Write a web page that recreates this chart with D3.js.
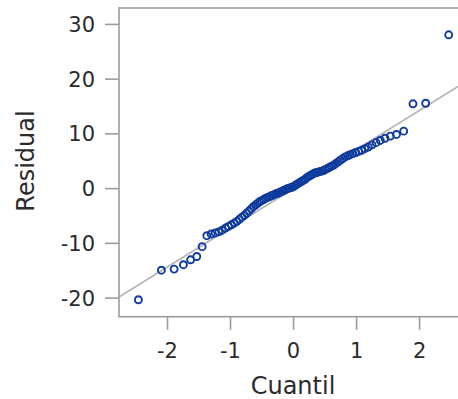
<!DOCTYPE html>
<html>
<head>
<meta charset="utf-8">
<script src="https://cdn.jsdelivr.net/npm/d3@7"></script>
<style>
  body { margin: 0; background: #fff; }
  text { font-family: "DejaVu Sans", sans-serif; fill: #2b2b2b; }
</style>
</head>
<body>
<div id="chart"></div>
<script>
// normal quantiles (x) and sorted residuals (y)
const quantiles = [
  -2.462, -2.097, -1.895, -1.748, -1.633, -1.536, -1.451, -1.376, -1.308, -1.244,
  -1.186, -1.132, -1.080, -1.032, -0.986, -0.942, -0.900, -0.859, -0.819, -0.781,
  -0.744, -0.708, -0.672, -0.638, -0.604, -0.571, -0.539, -0.507, -0.476, -0.445,
  -0.415, -0.385, -0.355, -0.325, -0.296, -0.267, -0.239, -0.210, -0.182, -0.154,
  -0.125, -0.097, -0.070, -0.042, -0.014, 0.014, 0.042, 0.070, 0.097, 0.125,
  0.154, 0.182, 0.210, 0.239, 0.267, 0.296, 0.325, 0.355, 0.385, 0.415,
  0.445, 0.476, 0.507, 0.539, 0.571, 0.604, 0.638, 0.672, 0.708, 0.744,
  0.781, 0.819, 0.859, 0.900, 0.942, 0.986, 1.032, 1.080, 1.132, 1.186,
  1.244, 1.308, 1.376, 1.451, 1.536, 1.633, 1.748, 1.895, 2.097, 2.462
];
const residuals = [
  -20.3, -14.9, -14.7, -13.9, -13.0, -12.4, -10.6, -8.6, -8.3, -8.1,
  -7.9, -7.6, -7.2, -6.9, -6.6, -6.3, -6.0, -5.6, -5.2, -4.9,
  -4.5, -4.1, -3.7, -3.3, -3.0, -2.7, -2.4, -2.2, -2.0, -1.8,
  -1.6, -1.5, -1.3, -1.2, -1.0, -0.9, -0.8, -0.6, -0.5, -0.3,
  -0.2, 0.0, 0.1, 0.2, 0.3, 0.5, 0.7, 0.9, 1.1, 1.3,
  1.5, 1.7, 2.0, 2.2, 2.4, 2.6, 2.8, 2.9, 3.0, 3.1,
  3.2, 3.3, 3.5, 3.7, 3.9, 4.1, 4.3, 4.6, 4.9, 5.2,
  5.5, 5.8, 6.0, 6.2, 6.4, 6.6, 6.8, 7.0, 7.3, 7.6,
  8.0, 8.4, 8.8, 9.2, 9.6, 9.9, 10.5, 15.5, 15.6, 28.1
];
const xTicks = [-2, -1, 0, 1, 2];
const yTicks = [-20, -10, 0, 10, 20, 30];
// reference line: residual = intercept + slope * quantile
const refIntercept = 0;
const refSlope = 7.15;

const width = 458, height = 399;
const plotLeft = 119, plotTop = 8, plotRight = 470, plotBottom = 316.7;
const axisColor = "#9c9c9c";

const svg = d3.select("#chart").append("svg")
    .attr("width", width)
    .attr("height", height);

let x = d3.scaleLinear().domain([-2.77, 2.8]).range([plotLeft, plotRight]);
let y = d3.scaleLinear().domain([-23.4, 33]).range([plotBottom, plotTop]);

svg.append("clipPath")
    .attr("id", "plotclip")
  .append("rect")
    .attr("x", plotLeft)
    .attr("y", plotTop)
    .attr("width", plotRight - plotLeft)
    .attr("height", plotBottom - plotTop);

const plot = svg.append("g").attr("clip-path", "url(#plotclip)");

// reference line
let xd = x.domain();
plot.append("line")
    .attr("x1", x(xd[0]))
    .attr("y1", y(refIntercept + refSlope * xd[0]))
    .attr("x2", x(xd[1]))
    .attr("y2", y(refIntercept + refSlope * xd[1]))
    .attr("stroke", "#b4b4b4")
    .attr("stroke-width", 1.6);

// points
plot.selectAll("circle")
    .data(quantiles.map((q, i) => ({q: q, r: residuals[i]})))
    .join(
        enter => enter.append("circle")
            .attr("cx", d => x(d.q))
            .attr("cy", d => y(d.r))
            .attr("r", 3.5)
            .attr("fill", "none")
            .attr("stroke", "#0d3b9e")
            .attr("stroke-width", 1.9)
    );

// frame
svg.append("rect")
    .attr("x", plotLeft)
    .attr("y", plotTop)
    .attr("width", plotRight - plotLeft)
    .attr("height", plotBottom - plotTop)
    .attr("fill", "none")
    .attr("stroke", axisColor)
    .attr("stroke-width", 1.6);

// y ticks
svg.selectAll(".ytick")
    .data(yTicks)
    .join(
        enter => enter.append("line")
            .attr("class", "ytick")
            .attr("x1", plotLeft - 14)
            .attr("x2", plotLeft)
            .attr("y1", d => y(d))
            .attr("y2", d => y(d))
            .attr("stroke", axisColor)
            .attr("stroke-width", 1.6)
    );

svg.selectAll(".ylabel")
    .data(yTicks)
    .join(
        enter => enter.append("text")
            .attr("class", "ylabel")
            .attr("x", 95)
            .attr("y", d => y(d))
            .attr("dy", "0.36em")
            .attr("text-anchor", "end")
            .attr("font-size", 21)
            .text(d => d.toString())
    );

// x ticks
svg.selectAll(".xtick")
    .data(xTicks)
    .join(
        enter => enter.append("line")
            .attr("class", "xtick")
            .attr("x1", d => x(d))
            .attr("x2", d => x(d))
            .attr("y1", plotBottom)
            .attr("y2", plotBottom + 13)
            .attr("stroke", axisColor)
            .attr("stroke-width", 1.6)
    );

svg.selectAll(".xlabel")
    .data(xTicks)
    .join(
        enter => enter.append("text")
            .attr("class", "xlabel")
            .attr("x", d => x(d))
            .attr("y", 358)
            .attr("text-anchor", "middle")
            .attr("font-size", 21)
            .text(d => d.toString())
    );

// axis titles
svg.append("text")
    .attr("x", 293)
    .attr("y", 394)
    .attr("text-anchor", "middle")
    .attr("font-size", 24)
    .text("Cuantil");

svg.append("text")
    .attr("transform", "translate(34,161) rotate(-90)")
    .attr("text-anchor", "middle")
    .attr("font-size", 24)
    .text("Residual");
</script>
</body>
</html>
